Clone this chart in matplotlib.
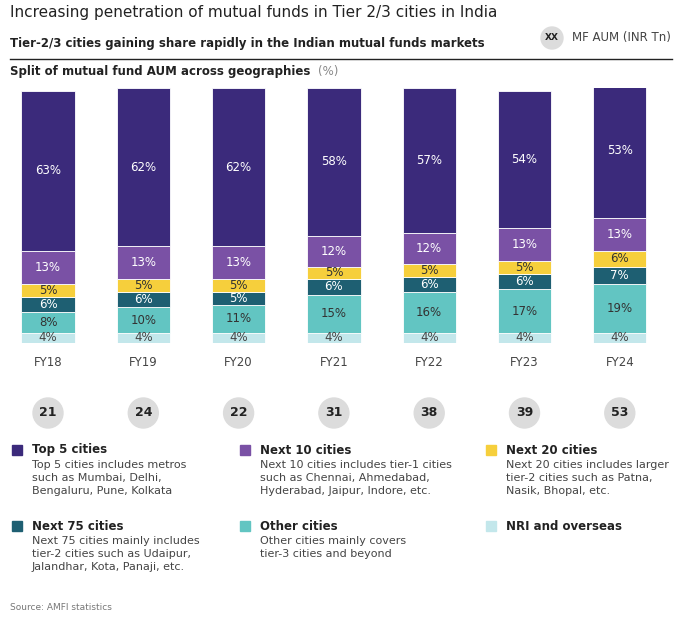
import matplotlib.pyplot as plt
from matplotlib.patches import Circle, Rectangle
from matplotlib.lines import Line2D

years = ["FY18", "FY19", "FY20", "FY21", "FY22", "FY23", "FY24"]
nri = [4, 4, 4, 4, 4, 4, 4]
other = [8, 10, 11, 15, 16, 17, 19]
next75 = [6, 6, 5, 6, 6, 6, 7]
next20 = [5, 5, 5, 5, 5, 5, 6]
next10 = [13, 13, 13, 12, 12, 13, 13]
top5 = [63, 62, 62, 58, 57, 54, 53]
aum = [21, 24, 22, 31, 38, 39, 53]

series = [
    ("NRI and overseas", nri, "#c3e7eb", "#444444"),
    ("Other cities", other, "#62c5c2", "#333333"),
    ("Next 75 cities", next75, "#1e5f72", "white"),
    ("Next 20 cities", next20, "#f6cf3c", "#333333"),
    ("Next 10 cities", next10, "#7a51a5", "white"),
    ("Top 5 cities", top5, "#3b2a7b", "white"),
]

W, H = 682, 624
fig = plt.figure(figsize=(W / 100, H / 100), dpi=100)
fig.patch.set_facecolor("white")

def fy(py):
    return 1 - py / H

ax = fig.add_axes([0, fy(343), 1, fy(88) - fy(343)])
x = list(range(len(years)))
bottom = [0] * len(years)
for name, vals, col, tcol in series:
    ax.bar(x, vals, bottom=bottom, width=0.56, color=col, edgecolor="white", linewidth=0.6)
    for i, v in enumerate(vals):
        ax.text(i, bottom[i] + v / 2, f"{v}%", ha="center", va="center", color=tcol, fontsize=8.5)
    bottom = [b + v for b, v in zip(bottom, vals)]
ax.set_xlim(-48 / 95.3, (682 - 48) / 95.3)
ax.set_ylim(0, 100)
ax.axis("off")

for i, y in enumerate(years):
    ax.text(i, -5, y, ha="center", va="top", fontsize=8.5, color="#444444")

ax2 = fig.add_axes([0, 0, 1, 1])
ax2.set_xlim(0, W)
ax2.set_ylim(H, 0)
ax2.axis("off")
for i, a in enumerate(aum):
    cx = 48 + 95.3 * i
    ax2.add_patch(Circle((cx, 413), 15, color="#dcdcdc"))
    ax2.text(cx, 413, str(a), ha="center", va="center", fontsize=9, fontweight="bold", color="#222222")

ax2.text(10, 12, "Increasing penetration of mutual funds in Tier 2/3 cities in India", fontsize=11, va="center", color="#222222")
ax2.text(10, 44, "Tier-2/3 cities gaining share rapidly in the Indian mutual funds markets", fontsize=8.5, fontweight="bold", va="center", color="#222222")
ax2.add_line(Line2D([10, 672], [59, 59], color="#222222", linewidth=1))
ax2.add_patch(Circle((552, 38), 11, color="#dcdcdc"))
ax2.text(552, 38, "XX", ha="center", va="center", fontsize=6.5, fontweight="bold", color="#222222")
ax2.text(572, 38, "MF AUM (INR Tn)", fontsize=8.5, va="center", color="#444444")
ax2.text(10, 72, "Split of mutual fund AUM across geographies", fontsize=8.5, fontweight="bold", va="center", color="#222222")
ax2.text(318, 72, "(%)", fontsize=8.5, va="center", color="#888888")

legend = [
    (12, 450, "#3b2a7b", "Top 5 cities", "Top 5 cities includes metros\nsuch as Mumbai, Delhi,\nBengaluru, Pune, Kolkata"),
    (240, 450, "#7a51a5", "Next 10 cities", "Next 10 cities includes tier-1 cities\nsuch as Chennai, Ahmedabad,\nHyderabad, Jaipur, Indore, etc."),
    (486, 450, "#f6cf3c", "Next 20 cities", "Next 20 cities includes larger\ntier-2 cities such as Patna,\nNasik, Bhopal, etc."),
    (12, 526, "#1e5f72", "Next 75 cities", "Next 75 cities mainly includes\ntier-2 cities such as Udaipur,\nJalandhar, Kota, Panaji, etc."),
    (240, 526, "#62c5c2", "Other cities", "Other cities mainly covers\ntier-3 cities and beyond"),
    (486, 526, "#c3e7eb", "NRI and overseas", ""),
]
for lx, ly, col, title, desc in legend:
    ax2.add_patch(Rectangle((lx, ly - 5), 10, 10, color=col))
    ax2.text(lx + 20, ly, title, fontsize=8.5, fontweight="bold", va="center", color="#222222")
    if desc:
        ax2.text(lx + 20, ly + 10, desc, fontsize=8, va="top", color="#444444", linespacing=1.35)

ax2.text(10, 607, "Source: AMFI statistics", fontsize=6.5, va="center", color="#777777")

fig.savefig("out.png", dpi=100)
